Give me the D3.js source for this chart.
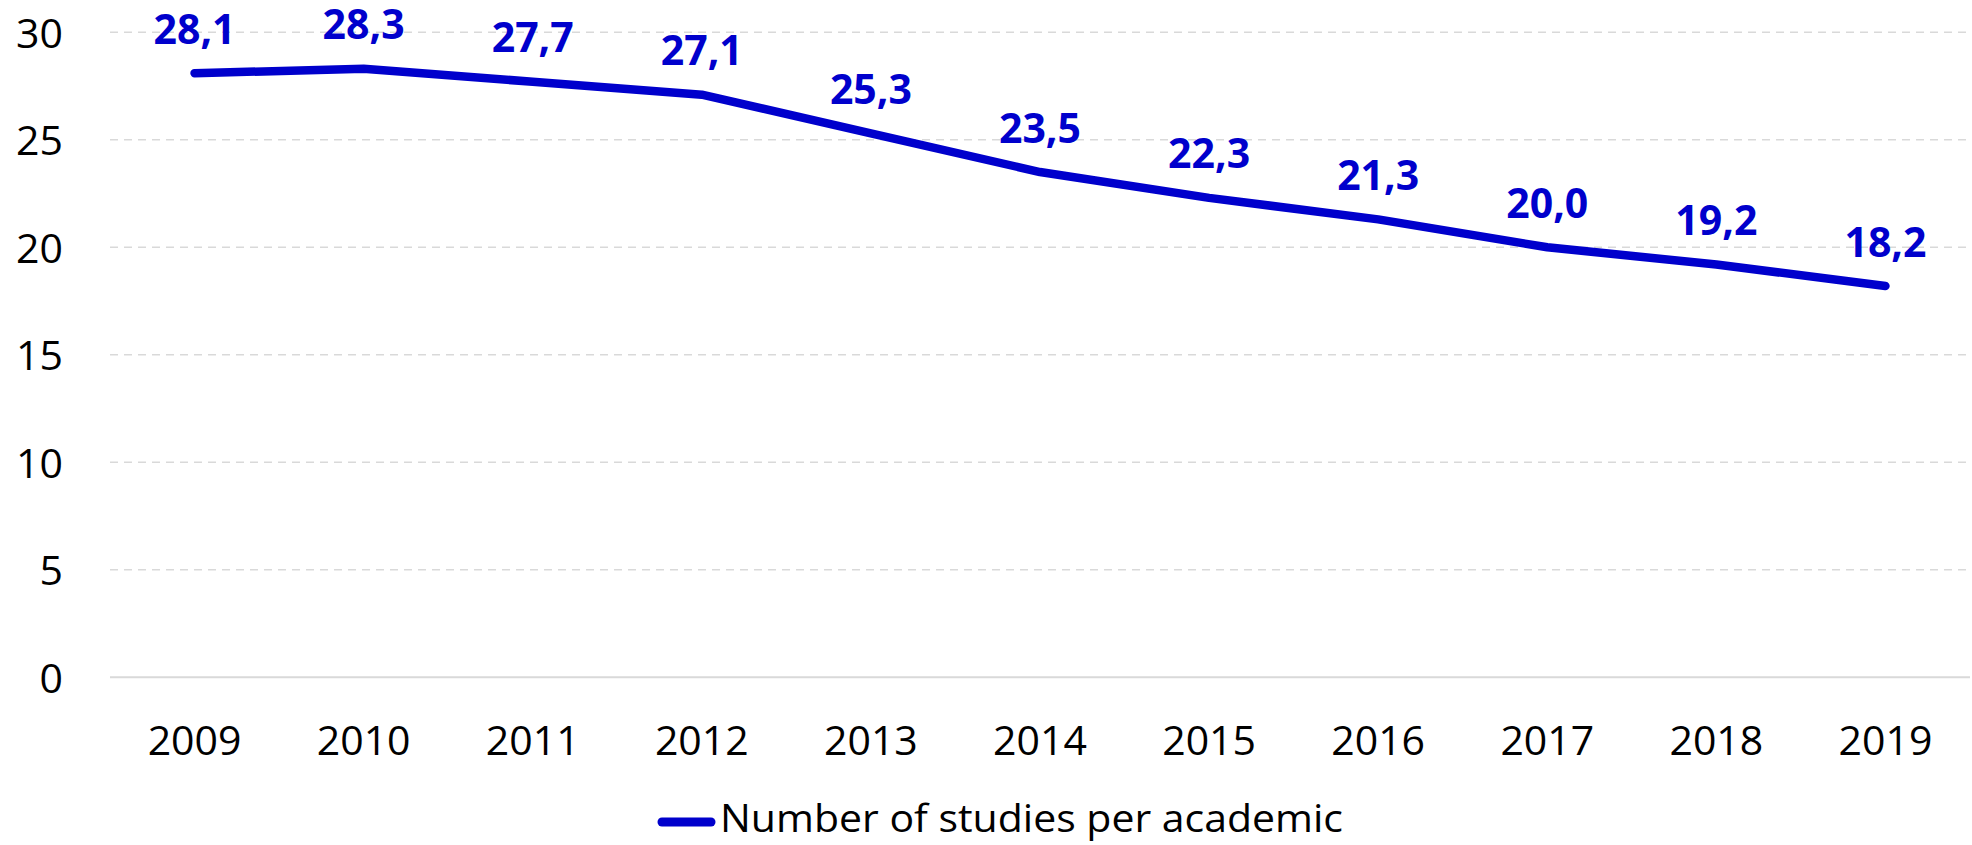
<!DOCTYPE html>
<html><head><meta charset="utf-8">
<script src="https://cdn.jsdelivr.net/npm/d3@7"></script>
<style>html,body{margin:0;padding:0;background:#fff;}svg{display:block;}</style>
</head><body>
<svg id="chart" width="1972" height="845"></svg>
<script>
const years = ["2009","2010","2011","2012","2013","2014","2015","2016","2017","2018","2019"];
const values = [28.1, 28.3, 27.7, 27.1, 25.3, 23.5, 22.3, 21.3, 20.0, 19.2, 18.2];
const yTicks = [0, 5, 10, 15, 20, 25, 30];
const seriesName = "Number of studies per academic";

(function () {
const svg = d3.select("#chart");
const plotLeft = 110, plotRight = 1970, plotTop = 32.3, plotBottom = 677.3;
const blue = "#0000CC";
const font = "'Open Sans', 'Noto Sans', sans-serif";

const x = d3.scaleBand().domain(years).range([plotLeft, plotRight]);
const y = d3.scaleLinear().domain([0, 30]).range([plotBottom, plotTop]);

// gridlines
svg.append("g").selectAll("line").data(yTicks).join("line")
  .attr("x1", plotLeft).attr("x2", plotRight)
  .attr("y1", d => y(d)).attr("y2", d => y(d))
  .attr("stroke", "#d9d9d9")
  .attr("stroke-width", d => d === 0 ? 2 : 1.5)
  .attr("stroke-dasharray", d => d === 0 ? null : "8,6");

// y axis labels
const yAxis = d3.axisLeft(y).tickValues(yTicks).tickSize(0).tickPadding(0).tickFormat(d3.format("d"));
const ga = svg.append("g").attr("transform", `translate(63,0)`).call(yAxis);
ga.select(".domain").remove();
ga.selectAll("text").attr("font-family", font).attr("font-size", 41).attr("fill", "#000")
  .attr("dy", "0.36em");

// x axis labels
const xAxis = d3.axisBottom(x).tickSize(0).tickPadding(0);
const gx = svg.append("g").attr("transform", `translate(0,755)`).call(xAxis);
gx.select(".domain").remove();
gx.selectAll("text").attr("font-family", font).attr("font-size", 41).attr("fill", "#000")
  .attr("dy", 0).attr("y", 0);

// line
const cx = d => x(d) + x.bandwidth() / 2;
const line = d3.line().x((d, i) => cx(years[i])).y(d => y(d));
svg.append("path").datum(values)
  .attr("d", line).attr("fill", "none").attr("stroke", blue)
  .attr("stroke-width", 8.5).attr("stroke-linecap", "round").attr("stroke-linejoin", "round");

// labels
const fmt = v => v.toFixed(1).replace(".", ",");
svg.append("g").selectAll("text").data(values).join("text")
  .attr("x", (d, i) => cx(years[i]))
  .attr("y", d => y(d) - 29.5)
  .attr("text-anchor", "middle")
  .attr("font-family", font).attr("font-weight", "bold").attr("font-size", 41)
  .attr("fill", blue)
  .text(fmt);

// legend
svg.append("line").attr("x1", 662).attr("x2", 711).attr("y1", 822).attr("y2", 822)
  .attr("stroke", blue).attr("stroke-width", 9).attr("stroke-linecap", "round");
svg.append("text").attr("x", 720).attr("y", 832)
  .attr("font-family", font).attr("font-size", 38).attr("fill", "#000")
  .attr("textLength", 623).attr("lengthAdjust", "spacingAndGlyphs")
  .text(seriesName);
})();
</script>
</body></html>
